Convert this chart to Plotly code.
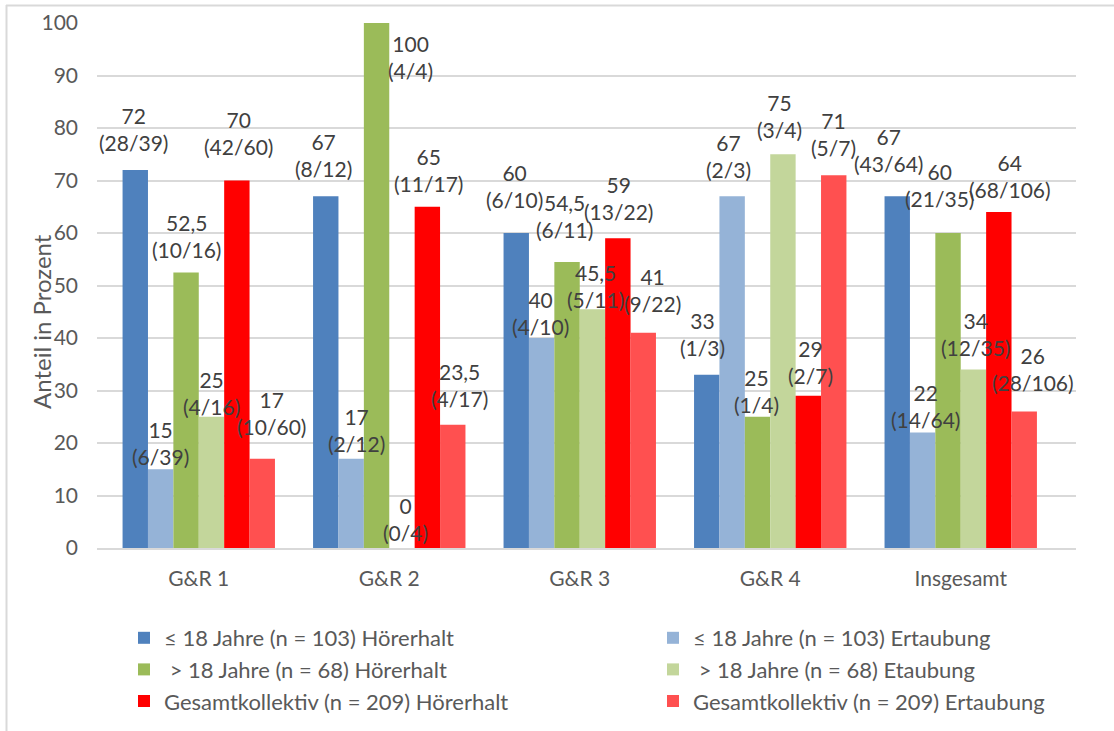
import plotly.graph_objects as go

# ---- data -------------------------------------------------------------
categories = ["G&R 1", "G&R 2", "G&R 3", "G&R 4", "Insgesamt"]

series_names = [
    "≤ 18 Jahre (n = 103) Hörerhalt",
    "≤ 18 Jahre (n = 103) Ertaubung",
    "\u00a0> 18 Jahre (n = 68) Hörerhalt",
    "\u00a0> 18 Jahre (n = 68) Etaubung",
    "Gesamtkollektiv (n = 209) Hörerhalt",
    "Gesamtkollektiv (n = 209) Ertaubung",
]

le18_hoererhalt = [72, 67, 60, 33, 67]
le18_ertaubung = [15, 17, 40, 67, 22]
gt18_hoererhalt = [52.5, 100, 54.5, 25, 60]
gt18_ertaubung = [25, 0, 45.5, 75, 34]
gesamt_hoererhalt = [70, 65, 59, 29, 64]
gesamt_ertaubung = [17, 23.5, 41, 71, 26]

le18_hoererhalt_n = ["28/39", "8/12", "6/10", "1/3", "43/64"]
le18_ertaubung_n = ["6/39", "2/12", "4/10", "2/3", "14/64"]
gt18_hoererhalt_n = ["10/16", "4/4", "6/11", "1/4", "21/35"]
gt18_ertaubung_n = ["4/16", "0/4", "5/11", "3/4", "12/35"]
gesamt_hoererhalt_n = ["42/60", "11/17", "13/22", "2/7", "68/106"]
gesamt_ertaubung_n = ["10/60", "4/17", "9/22", "5/7", "28/106"]

values = [le18_hoererhalt, le18_ertaubung, gt18_hoererhalt,
          gt18_ertaubung, gesamt_hoererhalt, gesamt_ertaubung]
counts = [le18_hoererhalt_n, le18_ertaubung_n, gt18_hoererhalt_n,
          gt18_ertaubung_n, gesamt_hoererhalt_n, gesamt_ertaubung_n]

# ---- styling ----------------------------------------------------------
colors = ["#4F81BD", "#95B3D7", "#9BBB59", "#C3D69B", "#FF0000", "#FF5050"]

# label placement per bar: (horizontal nudge px, height of label centre above bar top px)
label_nudges = [
    [(0, 41), (0, 41), (0, 47), (-2, 40.5), (-7, 46)],
    [(1, 26.6), (6, 29), (0, 25.5), (-3, 40), (4, 27)],
    [(0.5, 36.4), (34.5, -33.8), (-2, 46), (-1, 25.7), (-8, 47.8)],
    [(0, 23.9), (2.7, 28.7), (3, 23), (-4, 37.8), (1.5, 35.6)],
    [(1, 48), (0, 36.3), (0, 40.3), (1, 34), (9.7, 36.5)],
    [(7.5, 45.4), (5, 39.4), (7, 42.6), (-2, 40.8), (7, 42.6)],
]

W, H = 1114, 731
ML, MR, MT, MB = 97, 38, 23, 183
PW, PH = W - ML - MR, H - MT - MB
BARGAP = 0.2
FONT = "Lato, 'Open Sans', sans-serif"
TICK_COLOR = "#595959"
LABEL_COLOR = "#404040"
GRID = "#D9D9D9"


def px_x(px):
    return (px - ML) / PW


def px_y(py):
    return (H - MB - py) / PH


def fmt(v):
    return f"{v:g}".replace(".", ",")


fig = go.Figure()
legend_ids = ["legend", "legend2", "legend", "legend2", "legend", "legend2"]
for i, (name, vals) in enumerate(zip(series_names, values)):
    fig.add_trace(go.Bar(
        x=categories, y=vals, name=name,
        marker=dict(color=colors[i], line=dict(width=0)),
        legend=legend_ids[i], legendgroup=f"g{i}",
        hovertemplate="%{x}: %{y}<extra></extra>",
    ))

# value labels with case counts
slot_px = PW / len(categories)
bar_px = slot_px * (1 - BARGAP) / len(values)
annotations = []
for i, (vals, ns) in enumerate(zip(values, counts)):
    offset = (i - (len(values) - 1) / 2) * bar_px
    for j, (v, n) in enumerate(zip(vals, ns)):
        dx, up = label_nudges[i][j]
        annotations.append(dict(
            x=categories[j], y=v, xref="x", yref="y",
            text=f"{fmt(v)}<br>({n})", showarrow=False,
            xanchor="center", yanchor="middle",
            xshift=offset + dx, yshift=up,
            font=dict(family=FONT, size=21, color=LABEL_COLOR),
        ))

# y-axis title
annotations.append(dict(
    x=px_x(41), y=px_y(322), xref="paper", yref="paper",
    text="Anteil in Prozent", showarrow=False, textangle=-90,
    xanchor="center", yanchor="middle",
    font=dict(family=FONT, size=24, color=TICK_COLOR),
))

# outer frame (top and left edges)
shapes = [
    dict(type="line", xref="paper", yref="paper",
         x0=px_x(6), x1=px_x(W + 2), y0=px_y(5.5), y1=px_y(5.5),
         line=dict(color=GRID, width=2)),
    dict(type="line", xref="paper", yref="paper",
         x0=px_x(6.5), x1=px_x(6.5), y0=px_y(5), y1=px_y(H + 2),
         line=dict(color=GRID, width=2)),
]

legend_style = dict(
    orientation="v", xanchor="left", yanchor="top",
    font=dict(family=FONT, size=22, color=TICK_COLOR),
    bgcolor="rgba(0,0,0,0)", tracegroupgap=0, traceorder="grouped",
)

fig.update_layout(
    width=W, height=H,
    margin=dict(l=ML, r=MR, t=MT, b=MB, pad=0, autoexpand=False),
    paper_bgcolor="white", plot_bgcolor="white",
    barmode="group", bargap=BARGAP, bargroupgap=0,
    separators=",.",
    font=dict(family=FONT, color=TICK_COLOR),
    showlegend=True,
    legend=dict(x=px_x(124), y=px_y(617), **legend_style),
    legend2=dict(x=px_x(653), y=px_y(617), **legend_style),
    annotations=annotations,
    shapes=shapes,
    xaxis=dict(
        showgrid=False, showline=True, linecolor=GRID, linewidth=2,
        ticks="", tickfont=dict(family=FONT, size=21, color=TICK_COLOR),
        ticklabelstandoff=11, fixedrange=True,
    ),
    yaxis=dict(
        range=[0, 100], dtick=10, showgrid=True, gridcolor=GRID, gridwidth=2,
        zeroline=False, showline=False, ticks="",
        tickfont=dict(family=FONT, size=21, color=TICK_COLOR),
        ticklabelstandoff=18, fixedrange=True,
    ),
)

fig.write_html("out.html")
